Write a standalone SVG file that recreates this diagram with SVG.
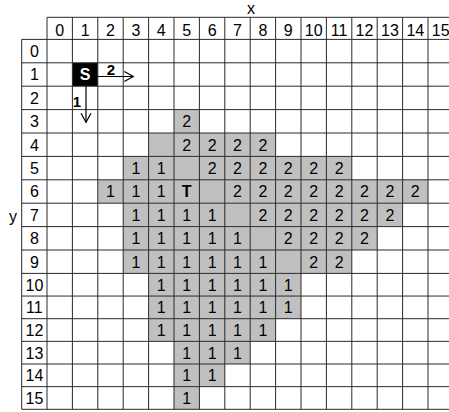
<svg xmlns="http://www.w3.org/2000/svg" width="449" height="412" viewBox="0 0 449 412">
<style>
.sh{fill:#c0c0c0;stroke:none}
.gl{stroke:#2a2a2a;stroke-width:1;fill:none}
text{font-family:"Liberation Sans",Arial,sans-serif;font-size:16px;fill:#000;text-anchor:middle}
.b{font-weight:bold}
.w{fill:#fff}
.al{font-size:15px}
.ar{stroke:#000;stroke-width:1.2;fill:none}
</style>
<defs>
<marker id="oa" markerUnits="userSpaceOnUse" markerWidth="14" markerHeight="14" viewBox="-12 -7 14 14" refX="0" refY="0" orient="auto">
<path d="M-9,-5 L0,0 L-9,5" stroke="#000" stroke-width="1.2" fill="none"/>
</marker>
</defs>
<rect width="449" height="412" fill="#fff"/>
<g id="shading">
<rect class="sh" x="174" y="109.6" width="25.4" height="23.4"/>
<rect class="sh" x="148.6" y="133" width="127" height="23.4"/>
<rect class="sh" x="123.2" y="156.4" width="228.6" height="23.4"/>
<rect class="sh" x="97.8" y="179.8" width="330.2" height="23.4"/>
<rect class="sh" x="123.2" y="203.2" width="279.4" height="23.4"/>
<rect class="sh" x="123.2" y="226.6" width="254" height="23.4"/>
<rect class="sh" x="123.2" y="250" width="228.6" height="23.4"/>
<rect class="sh" x="148.6" y="273.4" width="152.4" height="22.65"/>
<rect class="sh" x="148.6" y="296.05" width="152.4" height="22.65"/>
<rect class="sh" x="148.6" y="318.7" width="127" height="22.65"/>
<rect class="sh" x="174" y="341.35" width="76.2" height="22.65"/>
<rect class="sh" x="174" y="364" width="50.8" height="22.65"/>
<rect class="sh" x="174" y="386.65" width="25.4" height="22.65"/>
</g>
<g id="node-S">
<rect x="72.4" y="62.8" width="25.4" height="23.4" fill="#000"/>
<text class="b w" x="85.1" y="80.3">S</text>
</g>
<g id="grid">
<path class="gl" d="M47,17.3H453 M21.7,39.4H453 M21.7,62.8H453 M21.7,86.2H453 M21.7,109.6H453 M21.7,133H453 M21.7,156.4H453 M21.7,179.8H453 M21.7,203.2H453 M21.7,226.6H453 M21.7,250H453 M21.7,273.4H453 M21.7,296.05H453 M21.7,318.7H453 M21.7,341.35H453 M21.7,364H453 M21.7,386.65H453 M21.7,409.3H453"/>
<path class="gl" d="M21.7,39.4V409.3 M47,17.3V409.3 M72.4,17.3V409.3 M97.8,17.3V409.3 M123.2,17.3V409.3 M148.6,17.3V409.3 M174,17.3V409.3 M199.4,17.3V409.3 M224.8,17.3V409.3 M250.2,17.3V409.3 M275.6,17.3V409.3 M301,17.3V409.3 M326.4,17.3V409.3 M351.8,17.3V409.3 M377.2,17.3V409.3 M402.6,17.3V409.3 M428,17.3V409.3"/>
</g>
<g id="axis-labels">
<text x="251" y="13.5">x</text>
<text x="13" y="222">y</text>
<text x="59.7" y="35.8">0</text><text x="85.1" y="35.8">1</text><text x="110.5" y="35.8">2</text><text x="135.9" y="35.8">3</text><text x="161.3" y="35.8">4</text><text x="186.7" y="35.8">5</text><text x="212.1" y="35.8">6</text><text x="237.5" y="35.8">7</text><text x="262.9" y="35.8">8</text><text x="288.3" y="35.8">9</text><text x="313.7" y="35.8">10</text><text x="339.1" y="35.8">11</text><text x="364.5" y="35.8">12</text><text x="389.9" y="35.8">13</text><text x="415.3" y="35.8">14</text><text x="440.7" y="35.8">15</text>
<text x="34.4" y="57">0</text><text x="34.4" y="80.4">1</text><text x="34.4" y="103.8">2</text><text x="34.4" y="127.2">3</text><text x="34.4" y="150.6">4</text><text x="34.4" y="174">5</text><text x="34.4" y="197.4">6</text><text x="34.4" y="220.8">7</text><text x="34.4" y="244.2">8</text><text x="34.4" y="267.6">9</text><text x="34.4" y="290.6">10</text><text x="34.4" y="313.3">11</text><text x="34.4" y="335.9">12</text><text x="34.4" y="358.6">13</text><text x="34.4" y="381.2">14</text><text x="34.4" y="403.9">15</text>
</g>
<g id="values">
<text x="186.7" y="127.2">2</text>
<text x="186.7" y="150.6">2</text><text x="212.1" y="150.6">2</text><text x="237.5" y="150.6">2</text><text x="262.9" y="150.6">2</text>
<text x="135.9" y="174">1</text><text x="161.3" y="174">1</text><text x="212.1" y="174">2</text><text x="237.5" y="174">2</text><text x="262.9" y="174">2</text><text x="288.3" y="174">2</text><text x="313.7" y="174">2</text><text x="339.1" y="174">2</text>
<text x="110.5" y="197.4">1</text><text x="135.9" y="197.4">1</text><text x="161.3" y="197.4">1</text><text x="237.5" y="197.4">2</text><text x="262.9" y="197.4">2</text><text x="288.3" y="197.4">2</text><text x="313.7" y="197.4">2</text><text x="339.1" y="197.4">2</text><text x="364.5" y="197.4">2</text><text x="389.9" y="197.4">2</text><text x="415.3" y="197.4">2</text>
<text x="135.9" y="220.8">1</text><text x="161.3" y="220.8">1</text><text x="186.7" y="220.8">1</text><text x="212.1" y="220.8">1</text><text x="262.9" y="220.8">2</text><text x="288.3" y="220.8">2</text><text x="313.7" y="220.8">2</text><text x="339.1" y="220.8">2</text><text x="364.5" y="220.8">2</text><text x="389.9" y="220.8">2</text>
<text x="135.9" y="244.2">1</text><text x="161.3" y="244.2">1</text><text x="186.7" y="244.2">1</text><text x="212.1" y="244.2">1</text><text x="237.5" y="244.2">1</text><text x="288.3" y="244.2">2</text><text x="313.7" y="244.2">2</text><text x="339.1" y="244.2">2</text><text x="364.5" y="244.2">2</text>
<text x="135.9" y="267.6">1</text><text x="161.3" y="267.6">1</text><text x="186.7" y="267.6">1</text><text x="212.1" y="267.6">1</text><text x="237.5" y="267.6">1</text><text x="262.9" y="267.6">1</text><text x="313.7" y="267.6">2</text><text x="339.1" y="267.6">2</text>
<text x="161.3" y="290.6">1</text><text x="186.7" y="290.6">1</text><text x="212.1" y="290.6">1</text><text x="237.5" y="290.6">1</text><text x="262.9" y="290.6">1</text><text x="288.3" y="290.6">1</text>
<text x="161.3" y="313.3">1</text><text x="186.7" y="313.3">1</text><text x="212.1" y="313.3">1</text><text x="237.5" y="313.3">1</text><text x="262.9" y="313.3">1</text><text x="288.3" y="313.3">1</text>
<text x="161.3" y="335.9">1</text><text x="186.7" y="335.9">1</text><text x="212.1" y="335.9">1</text><text x="237.5" y="335.9">1</text><text x="262.9" y="335.9">1</text>
<text x="186.7" y="358.6">1</text><text x="212.1" y="358.6">1</text><text x="237.5" y="358.6">1</text>
<text x="186.7" y="381.2">1</text><text x="212.1" y="381.2">1</text>
<text x="186.7" y="403.9">1</text>
</g>
<g id="node-T">
<text class="b" x="186.7" y="197.4">T</text>
</g>
<g id="connectors">
<line class="ar" x1="97.8" y1="76.5" x2="133.3" y2="76.5" marker-end="url(#oa)"/>
<text class="b al" x="111" y="74.5">2</text>
<line class="ar" x1="86" y1="86.2" x2="86" y2="122.3" marker-end="url(#oa)"/>
<text class="b al" x="77" y="106.5">1</text>
</g>
</svg>
